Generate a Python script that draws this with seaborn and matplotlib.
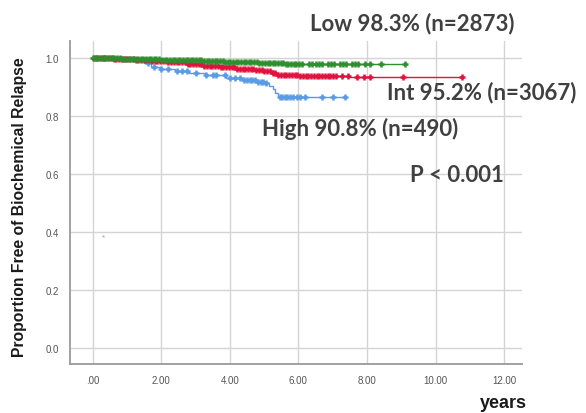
import numpy as np
import pandas as pd
import matplotlib
matplotlib.use("Agg")
import matplotlib.pyplot as plt
import seaborn as sns

# Kaplan-Meier step values (years, proportion free)
low_times = [0, 0.8, 1.5, 2.0, 2.6, 3.2, 3.8, 4.3, 4.8, 5.2, 5.6, 6.2, 9.12]
low_surv = [1.0, 0.999, 0.997, 0.995, 0.993, 0.991, 0.989, 0.987, 0.985, 0.983, 0.981, 0.980, 0.980]

int_times = [0, 0.6, 1.2, 1.7, 2.2, 2.7, 3.2, 3.7, 4.2, 4.7, 5.0, 5.2, 5.4, 6.0, 7.5, 10.76]
int_surv = [1.0, 0.998, 0.995, 0.991, 0.986, 0.980, 0.974, 0.969, 0.964, 0.959, 0.955, 0.948, 0.942, 0.939, 0.937, 0.937]

high_times = [0, 0.7, 1.3, 1.5, 1.7, 1.95, 2.4, 2.8, 3.3, 3.9, 4.4, 4.8, 5.05, 5.15, 5.25, 5.32, 5.4, 7.35]
high_surv = [1.0, 0.998, 0.993, 0.983, 0.972, 0.963, 0.955, 0.948, 0.942, 0.934, 0.926, 0.920, 0.915, 0.905, 0.893, 0.880, 0.867, 0.867]

# censored observations (the + marks)
low_censor = [0.02, 0.1, 0.17, 0.25, 0.33, 0.4, 0.48, 0.56, 0.63, 0.71, 0.79, 0.86, 0.94, 1.02,
              1.1, 1.17, 1.25, 1.33, 1.4, 1.48, 1.56, 1.63, 1.71, 1.79, 1.86, 1.94, 2.02, 2.1,
              2.17, 2.25, 2.33, 2.4, 2.48, 2.56, 2.63, 2.71, 2.79, 2.86, 2.94, 3.02, 3.1, 3.17,
              3.25, 3.33, 3.4, 3.48, 3.56, 3.63, 3.71, 3.79, 3.86, 3.94, 4.02, 4.1, 4.17, 4.25,
              4.33, 4.4, 4.48, 4.56, 4.63, 4.71, 4.79, 4.86, 4.94, 5.02, 5.1, 5.17, 5.25, 5.33,
              5.4, 5.48, 5.56, 5.63, 5.71, 5.79, 5.86, 5.94, 6.02, 6.1, 6.3, 6.4, 6.5, 6.6,
              6.7, 6.85, 6.95, 7.05, 7.2, 7.3, 7.4, 7.55, 7.65, 7.75, 7.95, 8.1, 8.4, 9.12]
int_censor = [0.05, 0.13, 0.21, 0.29, 0.37, 0.45, 0.53, 0.61, 0.69, 0.77, 0.85, 0.93, 1.01,
              1.09, 1.17, 1.25, 1.33, 1.41, 1.49, 1.57, 1.65, 1.73, 1.81, 1.89, 1.97, 2.05,
              2.13, 2.21, 2.29, 2.37, 2.45, 2.53, 2.61, 2.69, 2.77, 2.85, 2.93, 3.01, 3.09,
              3.17, 3.25, 3.33, 3.41, 3.49, 3.57, 3.65, 3.73, 3.81, 3.89, 3.97, 4.05, 4.13,
              4.21, 4.29, 4.37, 4.45, 4.53, 4.61, 4.69, 4.77, 4.85, 4.93, 5.01, 5.09, 5.17,
              5.25, 5.33, 5.41, 5.49, 5.57, 5.65, 5.73, 5.81, 5.89, 5.97, 6.05, 6.13, 6.21,
              6.29, 6.37, 6.45, 6.53, 6.61, 6.69, 6.77, 6.85, 6.93, 7.01, 7.1, 7.26, 7.45,
              7.7, 7.9, 8.1, 9.05, 10.76]
high_censor = [0.1, 0.3, 0.6, 0.9, 1.2, 1.6, 1.8, 2.0, 2.2, 2.45, 2.6, 2.75, 3.0, 3.3, 3.5,
               3.6, 3.85, 4.0, 4.15, 4.3, 4.4, 4.5, 4.58, 4.66, 4.74, 4.82, 4.9, 4.98, 5.06,
               5.45, 5.52, 5.6, 5.68, 5.76, 5.85, 5.95, 6.05, 6.2, 6.7, 7.0, 7.35]

# stray point near the y axis
stray_x = [0.29]
stray_y = [0.388]

x_ticks = [0, 2, 4, 6, 8, 10, 12]
x_tick_labels = [".00", "2.00", "4.00", "6.00", "8.00", "10.00", "12.00"]
y_ticks = [0.0, 0.2, 0.4, 0.6, 0.8, 1.0]
y_tick_labels = ["0.0", "0.2", "0.4", "0.6", "0.8", "1.0"]

groups = [
    ("High", high_times, high_surv, high_censor, "#5a9be6"),
    ("Int", int_times, int_surv, int_censor, "#e0123e"),
    ("Low", low_times, low_surv, low_censor, "#2f8f2f"),
]

sns.set_style("white")
plt.rcParams["font.family"] = ["Liberation Sans", "DejaVu Sans"]

fig = plt.figure(figsize=(5.86, 4.14), dpi=100)
ax = fig.add_axes([70 / 586, 1 - 365 / 414, (522 - 70) / 586, (365 - 42) / 414])

for name, times, surv, censor, colour in groups:
    curve = pd.DataFrame({"t": times, "s": surv})
    sns.lineplot(data=curve, x="t", y="s", drawstyle="steps-post", color=colour,
                 linewidth=1.0, estimator=None, sort=False, ax=ax)
    idx = np.searchsorted(times, censor, side="right") - 1
    marks = pd.DataFrame({"t": censor, "s": np.array(surv)[idx]})
    sns.scatterplot(data=marks, x="t", y="s", marker="+", color=colour, s=24,
                    linewidth=1.8, ax=ax, zorder=3)

sns.scatterplot(x=stray_x, y=stray_y, marker="*", color="#aaaaaa", s=12,
                linewidth=0.3, ax=ax)

ax.set_xlim(-0.66, 12.52)
ax.set_ylim(-0.054, 1.06)
ax.set_xticks(x_ticks)
ax.set_xticklabels(x_tick_labels)
ax.set_yticks(y_ticks)
ax.set_yticklabels(y_tick_labels)
ax.tick_params(length=0, labelsize=7, labelcolor="#555555", pad=8)
ax.set_xlabel("")
ax.set_ylabel("")
ax.grid(True, color="#d4d4d4", linewidth=1.0)
ax.set_axisbelow(True)
sns.despine(ax=ax)
for side in ["left", "bottom"]:
    ax.spines[side].set_color("#9a9a9a")
    ax.spines[side].set_linewidth(1.3)

fig.text(20 / 586, 1 - 207 / 414, "Proportion Free of Biochemical Relapse", rotation=90,
         ha="center", va="center", fontsize=11.3, fontweight="bold", color="#1a1a1a")
fig.text(503 / 586, 1 - 404 / 414, "years", ha="center", va="center",
         fontsize=13, fontweight="bold", color="#1a1a1a")

note_font = ["Lato", "DejaVu Sans"]
fig.text(412 / 586, 1 - 24 / 414, "Low 98.3% (n=2873)", ha="center", va="center",
         fontsize=16, fontweight="bold", color="#404040", family=note_font)
fig.text(482 / 586, 1 - 93 / 414, "Int 95.2% (n=3067)", ha="center", va="center",
         fontsize=16, fontweight="bold", color="#404040", family=note_font)
fig.text(360 / 586, 1 - 129 / 414, "High 90.8% (n=490)", ha="center", va="center",
         fontsize=16, fontweight="bold", color="#404040", family=note_font)
fig.text(457 / 586, 1 - 176 / 414, "P < 0.001", ha="center", va="center",
         fontsize=16, fontweight="bold", color="#404040", family=note_font)

fig.savefig("out.png", dpi=100)
